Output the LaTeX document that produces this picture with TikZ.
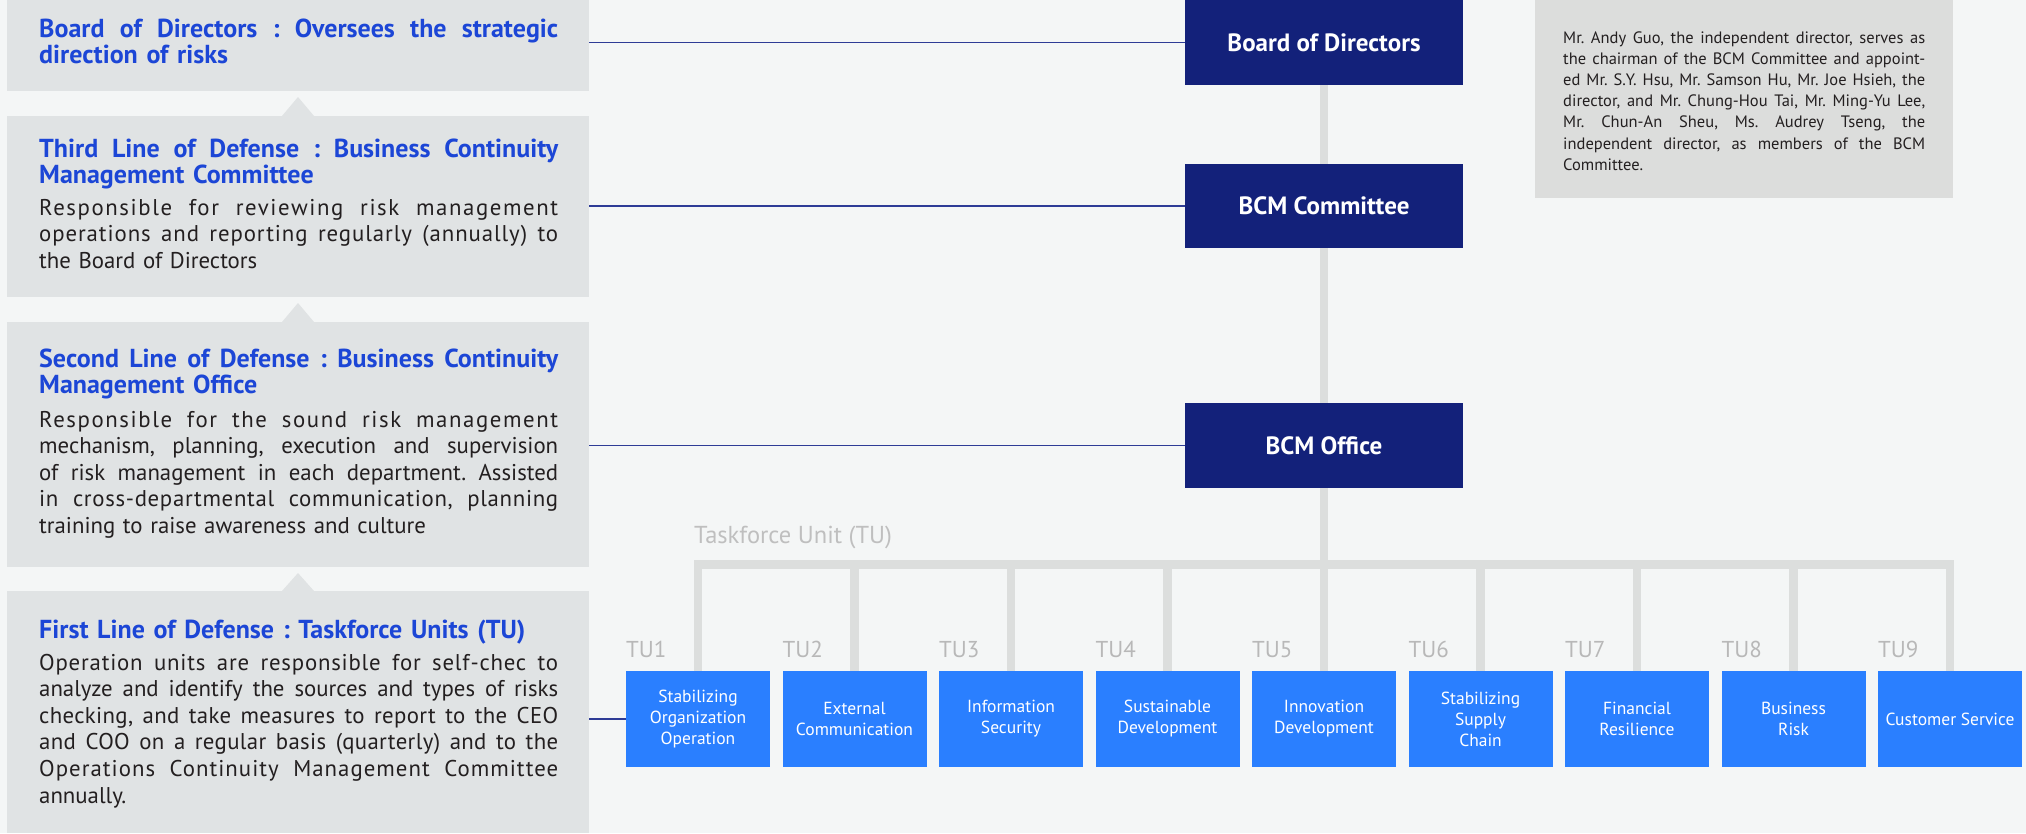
\documentclass[tikz,border=0pt]{standalone}
\usepackage{fontspec}
\setmainfont{PT Sans}
\usetikzlibrary{calc}
\usepackage{xcolor}
\definecolor{pagebg}{HTML}{F4F6F6}
\definecolor{panelgray}{HTML}{E0E3E4}
\definecolor{headblue}{HTML}{1C46D6}
\definecolor{bodyink}{HTML}{231F20}
\definecolor{navy}{HTML}{13217A}
\definecolor{tublue}{HTML}{2A7FFF}
\definecolor{treegray}{HTML}{DCDEDD}
\definecolor{notegray}{HTML}{DCDDDC}
\definecolor{labelgray}{HTML}{B8B8B8}
\definecolor{linkblue}{HTML}{2E3C96}
\frenchspacing

% one justified line of a block (optional letter spacing)
\newcommand{\jline}[2][0]{{\addfontfeature{LetterSpace=#1}\spaceskip=0pt\xspaceskip=0pt\relax\makebox[\hsize][s]{#2}}}

\begin{document}
\begin{tikzpicture}[x=1pt,y=-1pt,
  panel/.style={fill=panelgray,inner sep=0,outer sep=0,minimum width=582},
  headtext/.style={text=headblue,font=\bfseries\fontsize{26}{26.6}\selectfont,text width=519,align=left,inner sep=0,anchor=base west},
  bodytext/.style={text=bodyink,font=\fontsize{22.8}{26.6}\selectfont,text width=519,align=left,inner sep=0,anchor=base west},
  navybox/.style={fill=navy,text=white,font=\bfseries\fontsize{25}{26}\selectfont,minimum width=278,inner sep=0,outer sep=0},
  tubox/.style={fill=tublue,text=white,font=\fontsize{17.5}{21}\selectfont,minimum width=144,minimum height=96,align=center,inner sep=0,outer sep=0},
  tulabel/.style={text=labelgray,font=\fontsize{23}{24}\selectfont,inner sep=0,anchor=base west},
  treeline/.style={draw=treegray,line width=8.5pt,line join=miter},
  link/.style={draw=linkblue,line width=1.3pt}]

  \fill[pagebg] (0,0) rectangle (2026,833);
  \useasboundingbox (0,0) rectangle (2026,833);

  % Lines of defense panels
  \node[panel,minimum height=91] (pan1) at (298,45.5) {};
  \node[panel,minimum height=181] (pan2) at (298,206.5) {};
  \node[panel,minimum height=245] (pan3) at (298,444.5) {};
  \node[panel,minimum height=242] (pan4) at (298,712) {};
  \foreach \a/\b in {pan1/pan2, pan2/pan3, pan3/pan4}
    \fill[panelgray] ($(\b.north)+(-16,0)$) -- ($(\a.south)+(0,6)$) -- ($(\b.north)+(16,0)$) -- cycle;

  \node[headtext] (head1) at (39,37) {\jline{Board of Directors : Oversees the strategic}\\direction of risks};

  \node[headtext] (head2) at (39,157) {\jline{Third Line of Defense : Business Continuity}\\Management Committee};
  \node[bodytext] (body2) at (39,215) {\jline[7]{Responsible for reviewing risk management}\\
    \jline[4]{operations and reporting regularly (annually) to}\\
    the Board of Directors};

  \node[headtext] (head3) at (39,367) {\jline{Second Line of Defense : Business Continuity}\\Management Office};
  \node[bodytext] (body3) at (39,427) {\jline[7]{Responsible for the sound risk management}\\
    \jline{mechanism, planning, execution and supervision}\\
    \jline{of risk management in each department. Assisted}\\
    \jline[3]{in cross-departmental communication, planning}\\
    training to raise awareness and culture};

  \node[headtext] (head4) at (39,638) {First Line of Defense : Taskforce Units (TU)};
  \node[bodytext] (body4) at (39,670) {\jline[3.5]{Operation units are responsible for self-chec to}\\
    \jline{analyze and identify the sources and types of risks}\\
    \jline[1.5]{checking, and take measures to report to the CEO}\\
    \jline[1.5]{and COO on a regular basis (quarterly) and to the}\\
    \jline[4.5]{Operations Continuity Management Committee}\\
    annually.};

  % Organization chart
  \node[navybox,minimum height=85] (bod) at (1324,42.5) {Board of Directors};
  \node[navybox,minimum height=84] (com) at (1324,206) {BCM Committee};
  \node[navybox,minimum height=85] (off) at (1324,445.5) {BCM Office};

  \foreach \i/\t in {1/{Stabilizing\\Organization\\Operation}, 2/{External\\Communication},
      3/{Information\\Security}, 4/{Sustainable\\Development}, 5/{Innovation\\Development},
      6/{Stabilizing\\Supply\\Chain}, 7/{Financial\\Resilience}, 8/{Business\\Risk}, 9/{Customer Service}} {
    \node[tubox] (tu\i) at ({698+(\i-1)*156.5},719) {\t};
    \node[tulabel] (tul\i) at ($(tu\i.north west)+(0,-14)$) {TU\i};
  }

  \coordinate (bar) at (1324,564.5);
  \draw[treeline] (bod) -- (com) -- (off) -- (tu5);
  \draw[treeline] (tu1.north) -- (tu1.north |- bar) -- (tu9.north |- bar) -- (tu9.north);
  \foreach \i in {2,...,8}
    \draw[treeline] (tu\i.north) -- (tu\i.north |- bar);
  \node[text=labelgray!90,font=\fontsize{24.5}{26}\selectfont,inner sep=0,anchor=base west] (tflabel) at (694,543) {Taskforce Unit (TU)};

  % Links from panels to chart
  \draw[link] (pan1.east |- bod) -- (bod);
  \draw[link] (pan2.east |- com) -- (com);
  \draw[link] (pan3.east |- off) -- (off);
  \draw[link] (pan4.east |- tu1) -- (tu1);

  % Committee note
  \node[fill=notegray,minimum width=418,minimum height=198,inner sep=0,outer sep=0] (note) at (1744,99) {};
  \node[text=bodyink,font=\fontsize{16.5}{21.2}\selectfont,text width=362,align=left,inner sep=0,anchor=base west] (notetxt) at (1563,43)
    {\jline{Mr. Andy Guo, the independent director, serves as}\\
     \jline{the chairman of the BCM Committee and appoint-}\\
     \jline{ed Mr. S.Y. Hsu, Mr. Samson Hu, Mr. Joe Hsieh, the}\\
     \jline{director, and Mr. Chung-Hou Tai, Mr. Ming-Yu Lee,}\\
     \jline{Mr. Chun-An Sheu, Ms. Audrey Tseng, the}\\
     \jline{independent director, as members of the BCM}\\
     Committee.};
\end{tikzpicture}
\end{document}
